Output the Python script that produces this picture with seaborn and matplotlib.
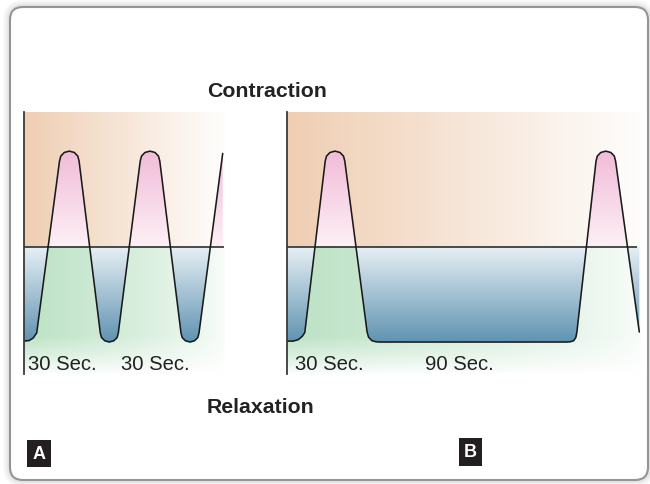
import numpy as np
import matplotlib
matplotlib.use("Agg")
import matplotlib.pyplot as plt
import seaborn as sns
from matplotlib.patches import FancyBboxPatch
from matplotlib.path import Path

# Uterine pressure trace, panel A: 30 s contraction / 30 s relaxation
a_time = [0, 5, 9, 12.7,
          35.5, 36.8, 40.3, 45.3, 50.3, 53.8, 55.1,
          76.3, 77.5, 80.8, 85.3, 89.8, 93.1, 94.3,
          116.2, 117.5, 121, 126, 131, 134.5, 135.8,
          157, 158.2, 161.5, 166, 170.5, 173.8, 175,
          198.7]
a_level = [-0.99, -0.985, -0.96, -0.905,
           0.895, 0.948, 0.986, 1.0, 0.986, 0.948, 0.895,
           -0.906, -0.953, -0.987, -1.0, -0.987, -0.953, -0.906,
           0.895, 0.948, 0.986, 1.0, 0.986, 0.948, 0.895,
           -0.906, -0.953, -0.987, -1.0, -0.987, -0.953, -0.906,
           0.976]

# Panel B: 30 s contraction / 90 s relaxation
b_time = [0, 6, 11, 15, 17.5,
          37.9, 39.2, 42.7, 47.7, 52.7, 56.2, 57.5,
          79.8, 81.3, 84.5, 89, 92.7,
          279.4, 283.3, 286.5, 288.6, 289.6,
          308.7, 310, 313.5, 318.5, 323.5, 327, 328.3,
          352]
b_level = [-0.99, -0.99, -0.975, -0.94, -0.9,
           0.895, 0.948, 0.986, 1.0, 0.986, 0.948, 0.895,
           -0.895, -0.95, -0.985, -0.998, -1.0,
           -1.0, -0.997, -0.985, -0.95, -0.895,
           0.895, 0.948, 0.986, 1.0, 0.986, 0.948, 0.895,
           -0.895]

a_labels = ["30 Sec.", "30 Sec."]
b_labels = ["30 Sec.", "90 Sec."]
panel_letters = ["A", "B"]
title_top = "Contraction"
title_bottom = "Relaxation"

# layout (pixels at 100 dpi)
W_PX, H_PX = 650, 485
Y_TOP, Y_BOT = 1.41, -1.335
a_label_x = [4, 96.7]
b_label_x = [7.7, 137.7]
LABEL_Y = -1.287

sns.set_theme(style="white")
plt.rcParams["font.family"] = ["Liberation Sans", "DejaVu Sans"]

fig = plt.figure(figsize=(W_PX / 100, H_PX / 100), dpi=100)
fig.patch.set_facecolor("white")

# full-figure canvas for the frame and headings, in pixel units
canvas = fig.add_axes([0, 0, 1, 1], zorder=0)
canvas.set_xlim(0, W_PX)
canvas.set_ylim(H_PX, 0)
canvas.axis("off")

for lw, a in [(10, 0.05), (7, 0.07), (4, 0.10)]:
    canvas.add_patch(FancyBboxPatch((10, 8), 638, 473,
                                    boxstyle="round,pad=0,rounding_size=13",
                                    fc="none", ec="#808080", lw=lw, alpha=a))
canvas.add_patch(FancyBboxPatch((10, 8), 638, 473,
                                boxstyle="round,pad=0,rounding_size=13",
                                fc="white", ec="#959595", lw=1.5))

canvas.text(207, 96.7, title_top, fontsize=15.3, fontweight="bold",
            color="#222222", ha="left", va="baseline")
canvas.text(207, 412.7, title_bottom, fontsize=15.3, fontweight="bold",
            color="#222222", ha="left", va="baseline")
for letter, cx, cy in zip(panel_letters, [39, 470.5], [454.5, 453]):
    canvas.text(cx, cy, letter, fontsize=13, fontweight="bold", color="white",
                ha="center", va="center",
                bbox=dict(boxstyle="square,pad=0.3", fc="#231f20", ec="none"))

PEACH = np.array([239, 206, 179]) / 255
PINK_TOP = np.array([241, 188, 216]) / 255
PINK_LOW = np.array([253, 240, 246]) / 255
BLUE_TOP = np.array([232, 240, 245]) / 255
BLUE_LOW = np.array([96, 147, 177]) / 255
GREEN = np.array([188, 226, 197]) / 255
WHITE = np.ones(3)


def clip_region(ax, t, lv, positive):
    if positive:
        pc = ax.fill_between(t, 0, lv, where=lv > 0, interpolate=True)
    else:
        pc = ax.fill_between(t, lv, 0, where=lv < 0, interpolate=True)
    paths = pc.get_paths()
    pc.remove()
    return Path.make_compound_path(*paths)


def draw_panel(ax, t, lv, width, base_end, labels, label_x):
    t = np.asarray(t, float)
    lv = np.asarray(lv, float)
    ax.set_facecolor("none")

    # upper background: peach fading to white across the panel
    xs = np.linspace(0, 1, 400)
    f = np.clip(xs * 0.97, 0, 1)[None, :, None]
    peach = PEACH * (1 - f) + WHITE * f
    ax.imshow(np.repeat(peach, 2, axis=0), extent=[0, width, 0, Y_TOP],
              origin="lower", aspect="auto", zorder=0, interpolation="bilinear")

    # lower background: green fading right and downward
    ys = np.linspace(Y_BOT, 0, 200)
    h = np.clip(1 - 0.97 * xs, 0, 1)[None, :] ** 0.7
    v = np.clip((ys - Y_BOT) / 0.4, 0, 1)[:, None] ** 0.8
    a = (h * v)[:, :, None]
    green = GREEN * a + WHITE * (1 - a)
    ax.imshow(green, extent=[0, width, Y_BOT, 0], origin="lower",
              aspect="auto", zorder=0, interpolation="bilinear")

    # pink inside the contraction peaks
    yp = np.linspace(0, 1, 200)[:, None, None]
    pink = PINK_LOW * (1 - yp) + PINK_TOP * yp
    im = ax.imshow(np.repeat(pink, 2, axis=1), extent=[0, width, 0, 1.0],
                   origin="lower", aspect="auto", zorder=1,
                   interpolation="bilinear")
    im.set_clip_path(clip_region(ax, t, lv, True), ax.transData)

    # blue in the relaxation troughs
    yb = np.linspace(0, 1, 200)[:, None, None]
    blue = BLUE_LOW * (1 - yb) + BLUE_TOP * yb
    im = ax.imshow(np.repeat(blue, 2, axis=1), extent=[0, width, -1.0, 0],
                   origin="lower", aspect="auto", zorder=1,
                   interpolation="bilinear")
    im.set_clip_path(clip_region(ax, t, lv, False), ax.transData)

    ax.hlines(0, 0, base_end, color="#1e1e1e", lw=1.1, zorder=3)
    sns.lineplot(x=t, y=lv, ax=ax, color="#1a1a1a", linewidth=1.15,
                 estimator=None, sort=False, zorder=4)
    ax.lines[-1].set_solid_joinstyle("round")

    for txt, lx in zip(labels, label_x):
        ax.text(lx, LABEL_Y, txt, fontsize=14.6, color="#222222",
                ha="left", va="baseline", zorder=5)

    ax.set_xlim(0, width)
    ax.set_ylim(Y_BOT, Y_TOP)
    ax.set_xticks([])
    ax.set_yticks([])
    ax.set_xlabel("")
    ax.set_ylabel("")
    for side in ["top", "right", "bottom"]:
        ax.spines[side].set_visible(False)
    ax.spines["left"].set_color("#3a3a3a")
    ax.spines["left"].set_linewidth(1.3)
    ax.spines["left"].set_zorder(5)


def px_axes(left, width):
    return fig.add_axes([left / W_PX, (H_PX - 375) / H_PX,
                         width / W_PX, 262 / H_PX], zorder=2)


ax_a = px_axes(24, 200.5)
ax_b = px_axes(287.3, 353)
draw_panel(ax_a, a_time, a_level, 200.5, 200.3, a_labels, a_label_x)
draw_panel(ax_b, b_time, b_level, 353, 349.4, b_labels, b_label_x)

fig.savefig("out.png", dpi=100, facecolor="white")
